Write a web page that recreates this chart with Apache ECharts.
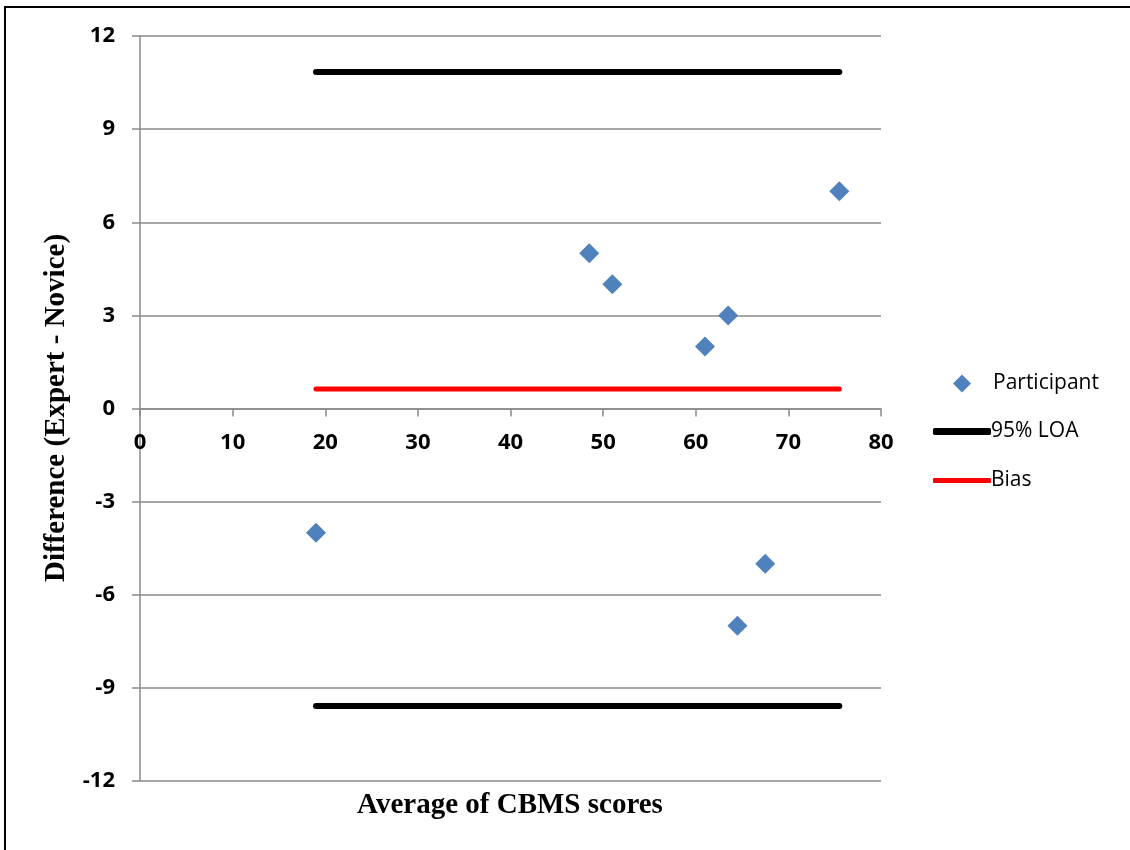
<!DOCTYPE html>
<html>
<head>
<meta charset="utf-8">
<script src="https://cdn.jsdelivr.net/npm/echarts@6/dist/echarts.min.js"></script>
<style>
html,body{margin:0;padding:0;background:#fff;}
#chart{width:1130px;height:850px;}
</style>
</head>
<body>
<div id="chart"></div>
<script>
// Data
var participantX = [19, 48.5, 51, 61, 63.5, 64.5, 67.5, 75.5];
var participantY = [-4, 5, 4, 2, 3, -7, -5, 7];
var lineRangeX = [19, 75.5];
var loaUpper = 10.84;
var loaLower = -9.58;
var biasValue = 0.63;
var xTicks = [0, 10, 20, 30, 40, 50, 60, 70, 80];
var yTicks = [-12, -9, -6, -3, 0, 3, 6, 9, 12];

var chart = echarts.init(document.getElementById('chart'), null, {renderer: 'canvas'});
var grey = '#8a8a8a';
var tickFont = {fontFamily: 'Open Sans', fontWeight: 'bold', fontSize: 22, color: '#000'};
var legendText = {fontFamily: 'Open Sans', fontSize: 21, color: '#000'};

var scatterData = participantX.map(function (x, i) { return [x, participantY[i]]; });
function hline(y) { return [[lineRangeX[0], y], [lineRangeX[1], y]]; }

// grid geometry: plot from y=36 to y=781 (745px for 24 units); zero line sits 12 units down
var gridTop = 36, gridBottomPx = 781;
var zeroOffset = -(gridBottomPx - (gridTop + (gridBottomPx - gridTop) * (yTicks[yTicks.length - 1] / (yTicks[yTicks.length - 1] - yTicks[0]))));

chart.setOption({
  animation: false,
  backgroundColor: '#fff',
  grid: {left: 140, top: gridTop, right: 249, bottom: 850 - gridBottomPx, containLabel: false},
  xAxis: {
    type: 'value', min: xTicks[0], max: xTicks[xTicks.length - 1], interval: 10,
    position: 'bottom', offset: zeroOffset,
    axisLine: {show: true, onZero: false, lineStyle: {color: grey, width: 1.5}},
    axisTick: {show: true, inside: false, length: 8, lineStyle: {color: grey, width: 1.5}},
    axisLabel: Object.assign({margin: 23}, tickFont),
    splitLine: {show: false}
  },
  yAxis: {
    type: 'value', min: yTicks[0], max: yTicks[yTicks.length - 1], interval: 3,
    axisLine: {show: true, onZero: false, lineStyle: {color: grey, width: 1.5}},
    axisTick: {show: true, inside: false, length: 8, lineStyle: {color: grey, width: 1.5}},
    axisLabel: Object.assign({margin: 25}, tickFont),
    splitLine: {show: true, lineStyle: {color: grey, width: 1.5}}
  },
  legend: [
    {orient: 'vertical', left: 948, top: 368, itemWidth: 18, itemHeight: 18,
     textStyle: Object.assign({padding: [0, 0, 0, 17]}, legendText),
     data: [{name: 'Participant', icon: 'diamond'}]},
    {orient: 'vertical', left: 928, top: 416, itemWidth: 58, itemHeight: 7,
     textStyle: Object.assign({padding: [0, 0, 0, -5]}, legendText),
     data: [{name: '95% LOA', icon: 'roundRect'}]},
    {orient: 'vertical', left: 928, top: 465, itemWidth: 58, itemHeight: 5,
     textStyle: Object.assign({padding: [0, 0, 0, -5]}, legendText),
     data: [{name: 'Bias', icon: 'roundRect'}]}
  ],
  series: [
    {name: 'Participant', type: 'scatter', symbol: 'diamond', symbolSize: 20,
     itemStyle: {color: '#4F81BD', opacity: 1}, data: scatterData, z: 5},
    {name: '95% LOA', type: 'line', showSymbol: false, symbol: 'none',
     lineStyle: {color: '#000', width: 6, cap: 'round'}, itemStyle: {color: '#000'}, data: hline(loaUpper)},
    {name: '95% LOA', type: 'line', showSymbol: false, symbol: 'none',
     lineStyle: {color: '#000', width: 6, cap: 'round'}, itemStyle: {color: '#000'}, data: hline(loaLower)},
    {name: 'Bias', type: 'line', showSymbol: false, symbol: 'none',
     lineStyle: {color: '#ff0000', width: 5, cap: 'round'}, itemStyle: {color: '#ff0000'}, data: hline(biasValue)}
  ],
  graphic: [
    {type: 'polyline', shape: {points: [[5, 850], [5, 7], [1130, 7]]},
     style: {stroke: '#000', lineWidth: 2, fill: null}},
    {type: 'text', x: 510, y: 806,
     style: {text: 'Average of CBMS scores', font: 'bold 29px "Liberation Serif"', fill: '#000', textAlign: 'center', textVerticalAlign: 'middle'}},
    {type: 'text', x: 57, y: 408, rotation: Math.PI / 2,
     style: {text: 'Difference (Expert - Novice)', font: 'bold 29px "Liberation Serif"', fill: '#000', textAlign: 'center', textVerticalAlign: 'middle'}}
  ]
});
</script>
</body>
</html>
